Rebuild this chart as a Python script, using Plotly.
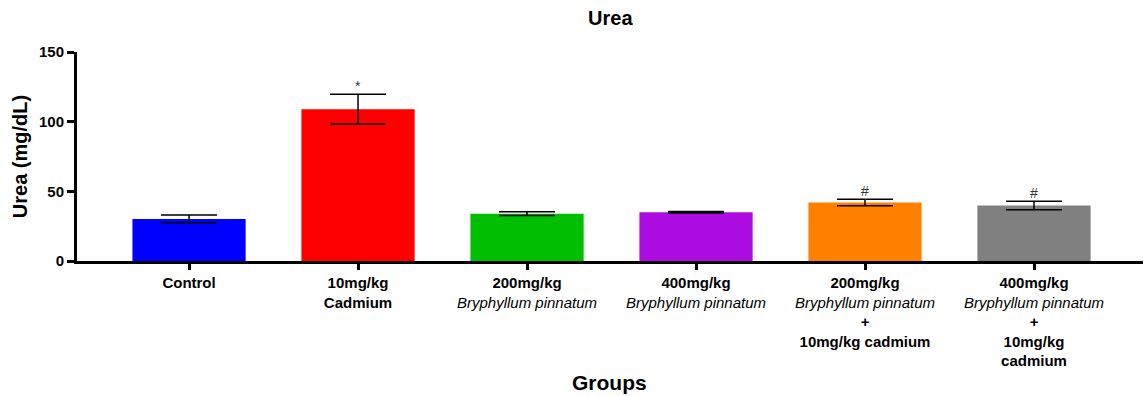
import plotly.graph_objects as go

# Serum urea per treatment group (mean ± SEM)
groups = [
    "<b>Control</b>",
    "<b>10mg/kg</b><br><b>Cadmium</b>",
    "<b>200mg/kg</b><br><i>Bryphyllum pinnatum</i>",
    "<b>400mg/kg</b><br><i>Bryphyllum pinnatum</i>",
    "<b>200mg/kg</b><br><i>Bryphyllum pinnatum</i><br><b>+</b><br><b>10mg/kg cadmium</b>",
    "<b>400mg/kg</b><br><i>Bryphyllum pinnatum</i><br><b>+</b><br><b>10mg/kg</b><br><b>cadmium</b>",
]
urea_mean = [30.2, 109.0, 34.0, 35.0, 42.0, 39.8]
urea_sem = [2.8, 10.6, 1.3, 0.5, 2.3, 3.1]
significance = ["", "*", "", "", "#", "#"]
bar_colors = ["#0000FF", "#FF0000", "#00BF00", "#AD0CE0", "#FF8000", "#808080"]

positions = list(range(len(groups)))

fig = go.Figure()
fig.add_trace(go.Bar(
    x=positions,
    y=urea_mean,
    width=0.67,
    marker=dict(color=bar_colors, line=dict(width=0)),
    error_y=dict(type="data", array=urea_sem, visible=True,
                 color="black", thickness=1.5, width=28),
    showlegend=False,
))

# significance markers just above the error bars
for xi, m, s, mark in zip(positions, urea_mean, urea_sem, significance):
    if mark:
        fig.add_annotation(x=xi, y=m + s, text=mark, showarrow=False,
                           yanchor="bottom", yshift=-2,
                           font=dict(family="Liberation Sans, Arial", size=14, color="#333333"))

fig.add_annotation(text="<b>Groups</b>", xref="paper", yref="paper",
                   x=0.4995, y=-0.58, xanchor="center", yanchor="middle",
                   showarrow=False, font=dict(size=21, color="black"))

fig.update_layout(
    width=1144, height=396,
    margin=dict(l=77, r=1, t=52, b=135),
    plot_bgcolor="white", paper_bgcolor="white",
    font=dict(family="Liberation Sans, Arial", color="black"),
    title=dict(text="<b>Urea</b>", x=0.5335, xanchor="center", y=0.955, yanchor="middle",
               font=dict(size=20, color="black")),
)

fig.update_xaxes(
    tickmode="array", tickvals=positions, ticktext=groups,
    range=[-0.663, 5.645],
    showline=True, linecolor="black", linewidth=3,
    ticks="outside", ticklen=6, tickwidth=3, tickcolor="black",
    tickfont=dict(size=15, color="black"),
    showgrid=False, zeroline=False,
)
fig.update_yaxes(
    range=[0, 150], tickvals=[0, 50, 100, 150],
    showline=True, linecolor="black", linewidth=3,
    ticks="outside", ticklen=7, tickwidth=3, tickcolor="black",
    tickfont=dict(size=15, color="black", weight="bold"),
    showgrid=False, zeroline=False,
    title=dict(text="<b>Urea (mg/dL)</b>", font=dict(size=20, color="black"), standoff=6),
)

fig.write_html("out.html")
